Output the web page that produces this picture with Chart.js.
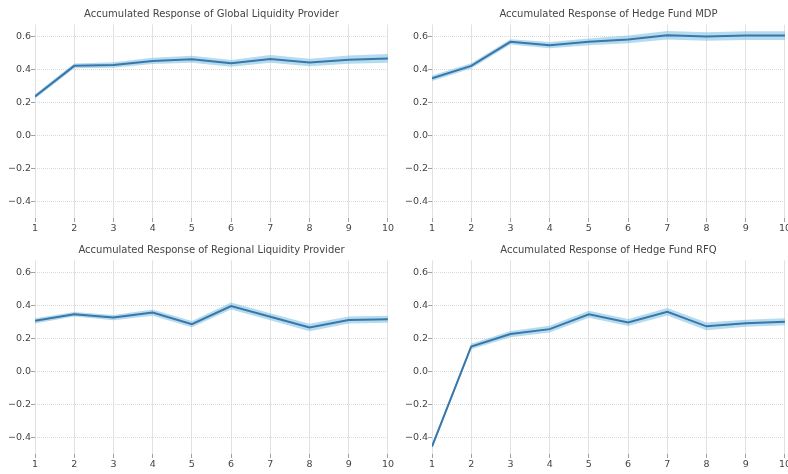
<!DOCTYPE html>
<html>
<head>
<meta charset="utf-8">
<script src="https://cdn.jsdelivr.net/npm/chart.js@4/dist/chart.umd.min.js"></script>
<style>
  html, body { margin: 0; padding: 0; width: 788px; height: 474px; overflow: hidden; background: #fff; }
  canvas { position: absolute; display: block; }
</style>
</head>
<body>
<canvas id="c0" width="395" height="236" style="left:0px;top:0px"></canvas>
<canvas id="c1" width="395" height="236" style="left:397px;top:0px"></canvas>
<canvas id="c2" width="395" height="238" style="left:0px;top:236px"></canvas>
<canvas id="c3" width="395" height="238" style="left:397px;top:236px"></canvas>
<script>
// Horizon steps and axis ticks
const steps = [1, 2, 3, 4, 5, 6, 7, 8, 9, 10];
const yTickValues = [-0.4, -0.2, 0.0, 0.2, 0.4, 0.6];

// Accumulated responses (point estimates)
const globalLP   = [0.235, 0.420, 0.425, 0.450, 0.460, 0.435, 0.462, 0.440, 0.457, 0.465];
const hedgeMDP   = [0.345, 0.420, 0.565, 0.545, 0.565, 0.580, 0.605, 0.597, 0.603, 0.603];
const regionalLP = [0.305, 0.345, 0.325, 0.355, 0.285, 0.395, 0.330, 0.265, 0.310, 0.315];
const hedgeRFQ   = [-0.455, 0.150, 0.225, 0.255, 0.345, 0.295, 0.360, 0.272, 0.290, 0.300];

// Half-width of the confidence band around each response
const globalLPBand   = [0.014, 0.014, 0.016, 0.019, 0.021, 0.021, 0.023, 0.023, 0.025, 0.026];
const hedgeMDPBand   = [0.016, 0.016, 0.016, 0.019, 0.021, 0.023, 0.026, 0.026, 0.026, 0.026];
const regionalLPBand = [0.016, 0.014, 0.016, 0.019, 0.019, 0.021, 0.021, 0.023, 0.021, 0.021];
const hedgeRFQBand   = [0.011, 0.016, 0.019, 0.021, 0.021, 0.021, 0.023, 0.023, 0.021, 0.021];

const titles = [
  'Accumulated Response of Global Liquidity Provider',
  'Accumulated Response of Hedge Fund MDP',
  'Accumulated Response of Regional Liquidity Provider',
  'Accumulated Response of Hedge Fund RFQ'
];

const FONT = 'DejaVu Sans';
const lineColor = '#3976aa';
const bandColor = 'rgba(120,190,225,0.55)';
const textColor = '#444444';

// Panel title centred over the plotting area rather than the whole canvas
const axesTitle = {
  id: 'axesTitle',
  afterDraw(chart, args, opts) {
    const { ctx, chartArea } = chart;
    ctx.save();
    ctx.font = '10px "' + FONT + '"';
    ctx.fillStyle = textColor;
    ctx.textAlign = 'center';
    ctx.textBaseline = 'middle';
    ctx.fillText(opts.text, (chartArea.left + chartArea.right) / 2, 14);
    ctx.restore();
  }
};

function points(vals) {
  return steps.map((s, i) => ({ x: s, y: vals[i] }));
}

function makePanel(id, title, values, half, xAxisHeight) {
  const lower = values.map((v, i) => v - half[i]);
  const upper = values.map((v, i) => v + half[i]);
  new Chart(document.getElementById(id), {
    type: 'line',
    data: {
      datasets: [
        { data: points(values), borderColor: lineColor, borderWidth: 2, pointRadius: 0, fill: false, tension: 0 },
        { data: points(lower), borderWidth: 0, borderColor: 'rgba(0,0,0,0)', pointRadius: 0, fill: false },
        { data: points(upper), borderWidth: 0, borderColor: 'rgba(0,0,0,0)', pointRadius: 0, fill: 1, backgroundColor: bandColor }
      ]
    },
    plugins: [axesTitle],
    options: {
      responsive: false,
      animation: false,
      events: [],
      layout: { padding: { top: 24.5 } },
      plugins: {
        legend: { display: false },
        tooltip: { enabled: false },
        title: { display: false },
        axesTitle: { text: title }
      },
      scales: {
        x: {
          type: 'linear',
          min: 1,
          max: 10,
          afterBuildTicks: s => { s.ticks = steps.map(v => ({ value: v })); },
          afterFit: s => { s.height = xAxisHeight; },
          border: { display: false },
          grid: { color: '#e2e2e2', lineWidth: 1, drawTicks: true, tickLength: 4, tickColor: '#a0a0a0' },
          ticks: { color: textColor, font: { family: FONT, size: 9.5 }, padding: 1, maxRotation: 0, autoSkip: false }
        },
        y: {
          type: 'linear',
          min: -0.5,
          max: 0.67,
          afterBuildTicks: s => { s.ticks = yTickValues.map(v => ({ value: v })); },
          afterFit: s => { s.width = 35; },
          border: { display: false, dash: [1, 1] },
          grid: { color: '#d9d9d9', lineWidth: 1, drawTicks: true, tickLength: 4, tickColor: '#a0a0a0', tickBorderDash: [] },
          ticks: {
            color: textColor,
            font: { family: FONT, size: 9.5 },
            padding: 0,
            callback: v => v.toFixed(1).replace('-', '\u2212')
          }
        }
      }
    }
  });
}

makePanel('c0', titles[0], globalLP, globalLPBand, 18);
makePanel('c1', titles[1], hedgeMDP, hedgeMDPBand, 18);
makePanel('c2', titles[2], regionalLP, regionalLPBand, 20);
makePanel('c3', titles[3], hedgeRFQ, hedgeRFQBand, 20);
</script>
</body>
</html>
